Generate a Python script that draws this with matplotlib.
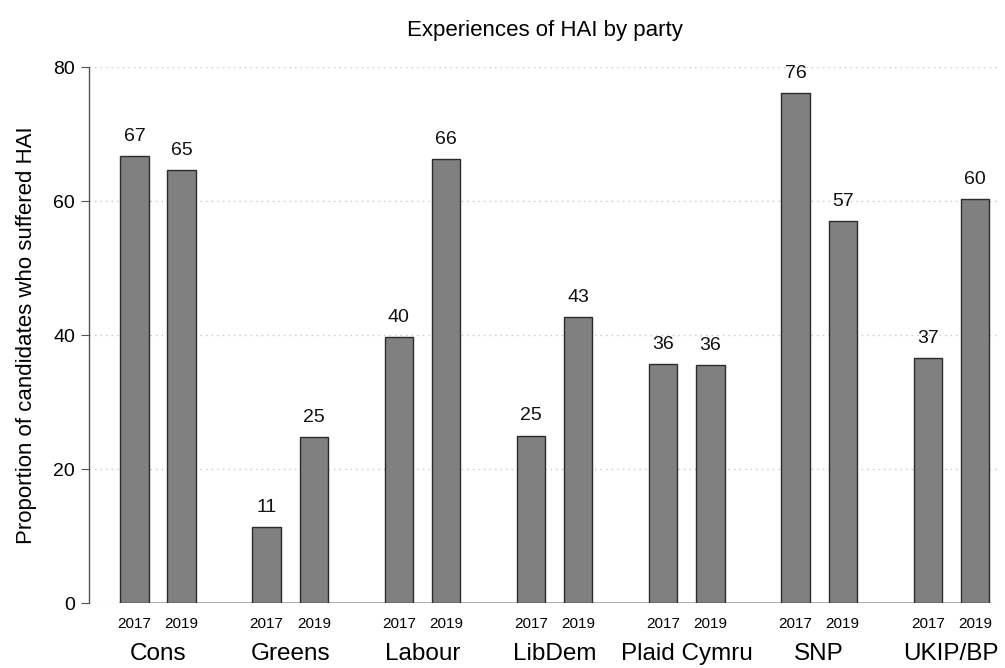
import numpy as np
import matplotlib.pyplot as plt
from matplotlib.transforms import blended_transform_factory

plt.rcParams['font.family'] = ['Liberation Sans', 'DejaVu Sans']

parties = ['Cons', 'Greens', 'Labour', 'LibDem', 'Plaid Cymru', 'SNP', 'UKIP/BP']
years = ['2017', '2019']
hai_2017 = [66.7, 11.3, 39.7, 25.0, 35.6, 76.1, 36.6]
hai_2019 = [64.6, 24.8, 66.3, 42.7, 35.5, 57.0, 60.3]

fig = plt.figure(figsize=(10.05, 6.68), dpi=100)
ax = fig.add_axes([0.0886, 0.0973, 0.9064, 0.8024])

group = np.arange(len(parties)) * 2.8
pos17 = group
pos19 = group + 1

for pos, vals in [(pos17, hai_2017), (pos19, hai_2019)]:
    ax.bar(pos, vals, width=0.6, color='#808080', edgecolor='#2b2b2b', linewidth=1.0, zorder=3)
    for x, v in zip(pos, vals):
        ax.annotate(f'{v:.0f}', (x, v), xytext=(0, 8), textcoords='offset points',
                    ha='center', va='bottom', fontsize=14, color='#111111')

ax.set_xlim(-0.96, 18.33)
ax.set_ylim(0, 80)

# dotted gridlines
for y in [0, 20, 40, 60, 80]:
    ax.axhline(y, color='#c8c8c8', linestyle=(0, (1, 3)), linewidth=1.0, zorder=1)
# solid base line under bars
ax.plot([pos17[0] - 0.3, pos19[-1] + 0.3], [0, 0], color='#a0a0a0', linewidth=1.2, zorder=2)

for s in ['top', 'right', 'bottom']:
    ax.spines[s].set_visible(False)
ax.spines['left'].set_color('#555555')
ax.spines['left'].set_linewidth(1.0)

ax.set_yticks([0, 20, 40, 60, 80])
ax.tick_params(axis='y', labelsize=14, length=6, color='#555555', pad=4)

ticks = np.concatenate([pos17, pos19])
labels = [years[0]] * len(parties) + [years[1]] * len(parties)
ax.set_xticks(ticks, labels)
ax.tick_params(axis='x', length=0, labelsize=11, pad=10)

trans = blended_transform_factory(ax.transData, ax.transAxes)
for g, name in zip(group, parties):
    ax.text(g + 0.5, -0.096, name, transform=trans, ha='center', va='center', fontsize=17.5)

ax.set_ylabel('Proportion of candidates who suffered HAI', fontsize=16, labelpad=12)
ax.set_title('Experiences of HAI by party', fontsize=16, pad=22)

fig.savefig('out.png', dpi=100)
